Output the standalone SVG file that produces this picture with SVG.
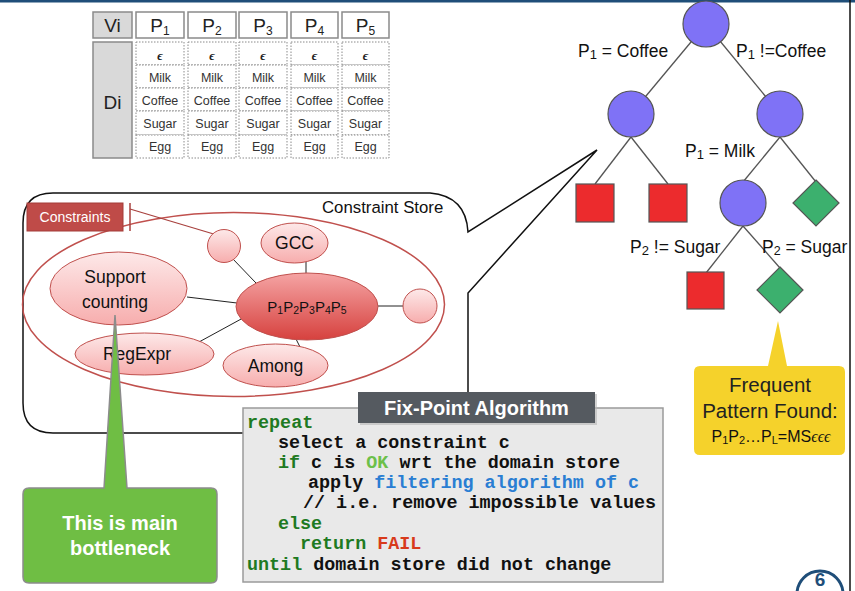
<svg xmlns="http://www.w3.org/2000/svg" width="855" height="591" viewBox="0 0 855 591">
<defs>
<style>
.hdr{fill:#fff;stroke:#8a8a8a;stroke-width:1.5}
.gray{fill:#d9d9d9;stroke:#8a8a8a;stroke-width:1.5}
.dot{fill:#fff;stroke:#8a8a8a;stroke-width:1;stroke-dasharray:1.5 1.5}
.cell{font-family:"Liberation Sans",Arial,sans-serif;font-size:12.5px;fill:#333;text-anchor:middle}
.eps{font-family:"Liberation Serif",serif;font-style:italic;font-weight:bold;font-size:13px;fill:#222;text-anchor:middle}
.ph{font-family:"Liberation Sans",Arial,sans-serif;font-size:19px;fill:#222;text-anchor:middle}
.lbl{font-family:"Liberation Sans",Arial,sans-serif;font-size:17.5px;fill:#111}
.edge{stroke:#555;stroke-width:1.3;fill:none}
.cedge{stroke:#222;stroke-width:1;fill:none}
.circ{fill:#7f72f6;stroke:#555;stroke-width:1.2}
.sq{fill:#ec2b2d;stroke:#555;stroke-width:1.2}
.dia{fill:#3cb06e;stroke:#555;stroke-width:1.2}
.pink{fill:url(#gPink);stroke:#c0504d;stroke-width:1}
.ntxt{font-family:"Liberation Sans",Arial,sans-serif;font-size:17.5px;fill:#111;text-anchor:middle}
.code{font-family:"Liberation Mono","Courier New",monospace;font-weight:bold;font-size:18.4px;fill:#111;white-space:pre}
.kw{fill:#1e7a22}
.sans{font-family:"Liberation Sans",Arial,sans-serif}
</style>
<linearGradient id="gPink" x1="0" y1="0" x2="0" y2="1">
<stop offset="0" stop-color="#fde9e9"/>
<stop offset="1" stop-color="#f7adad"/>
</linearGradient>
<linearGradient id="gRed" x1="0" y1="0" x2="0" y2="1">
<stop offset="0" stop-color="#f5a4a4"/>
<stop offset="1" stop-color="#d6413e"/>
</linearGradient>
</defs>
<rect x="0" y="0" width="855" height="591" fill="#fff"/>
<rect x="0" y="0" width="855" height="2.5" fill="#1f4e79"/>
<line x1="850" y1="0" x2="850" y2="591" stroke="#111" stroke-width="1.5"/>

<!-- table -->
<g id="table">
<rect class="gray" x="93" y="12" width="39" height="26"/>
<text class="ph" x="112.5" y="32">Vi</text>
<rect class="gray" x="93" y="42" width="39" height="116"/>
<text class="ph" x="112.5" y="109" font-size="23">Di</text>
<g id="colP1">
<rect class="hdr" x="136" y="12" width="48" height="26"/>
<text class="ph" x="160" y="32">P<tspan font-size="12" dy="3">1</tspan></text>
</g>
<g id="colP2">
<rect class="hdr" x="188" y="12" width="48" height="26"/>
<text class="ph" x="212" y="32">P<tspan font-size="12" dy="3">2</tspan></text>
</g>
<g id="colP3">
<rect class="hdr" x="239" y="12" width="48" height="26"/>
<text class="ph" x="263" y="32">P<tspan font-size="12" dy="3">3</tspan></text>
</g>
<g id="colP4">
<rect class="hdr" x="291" y="12" width="47" height="26"/>
<text class="ph" x="314.5" y="32">P<tspan font-size="12" dy="3">4</tspan></text>
</g>
<g id="colP5">
<rect class="hdr" x="342" y="12" width="47" height="26"/>
<text class="ph" x="365.5" y="32">P<tspan font-size="12" dy="3">5</tspan></text>
</g>
<g id="cells">
<rect class="dot" x="136" y="42" width="48" height="23"/><rect class="dot" x="136" y="65" width="48" height="23"/><rect class="dot" x="136" y="88" width="48" height="23"/><rect class="dot" x="136" y="111" width="48" height="24"/><rect class="dot" x="136" y="135" width="48" height="23"/>
<rect class="dot" x="188" y="42" width="48" height="23"/><rect class="dot" x="188" y="65" width="48" height="23"/><rect class="dot" x="188" y="88" width="48" height="23"/><rect class="dot" x="188" y="111" width="48" height="24"/><rect class="dot" x="188" y="135" width="48" height="23"/>
<rect class="dot" x="239" y="42" width="48" height="23"/><rect class="dot" x="239" y="65" width="48" height="23"/><rect class="dot" x="239" y="88" width="48" height="23"/><rect class="dot" x="239" y="111" width="48" height="24"/><rect class="dot" x="239" y="135" width="48" height="23"/>
<rect class="dot" x="291" y="42" width="47" height="23"/><rect class="dot" x="291" y="65" width="47" height="23"/><rect class="dot" x="291" y="88" width="47" height="23"/><rect class="dot" x="291" y="111" width="47" height="24"/><rect class="dot" x="291" y="135" width="47" height="23"/>
<rect class="dot" x="342" y="42" width="47" height="23"/><rect class="dot" x="342" y="65" width="47" height="23"/><rect class="dot" x="342" y="88" width="47" height="23"/><rect class="dot" x="342" y="111" width="47" height="24"/><rect class="dot" x="342" y="135" width="47" height="23"/>
<text class="eps" x="160" y="60">ϵ</text><text class="eps" x="212" y="60">ϵ</text><text class="eps" x="263" y="60">ϵ</text><text class="eps" x="314.5" y="60">ϵ</text><text class="eps" x="365.5" y="60">ϵ</text>
<text class="cell" x="160" y="82">Milk</text><text class="cell" x="212" y="82">Milk</text><text class="cell" x="263" y="82">Milk</text><text class="cell" x="314.5" y="82">Milk</text><text class="cell" x="365.5" y="82">Milk</text>
<text class="cell" x="160" y="105">Coffee</text><text class="cell" x="212" y="105">Coffee</text><text class="cell" x="263" y="105">Coffee</text><text class="cell" x="314.5" y="105">Coffee</text><text class="cell" x="365.5" y="105">Coffee</text>
<text class="cell" x="160" y="128">Sugar</text><text class="cell" x="212" y="128">Sugar</text><text class="cell" x="263" y="128">Sugar</text><text class="cell" x="314.5" y="128">Sugar</text><text class="cell" x="365.5" y="128">Sugar</text>
<text class="cell" x="160" y="151">Egg</text><text class="cell" x="212" y="151">Egg</text><text class="cell" x="263" y="151">Egg</text><text class="cell" x="314.5" y="151">Egg</text><text class="cell" x="365.5" y="151">Egg</text>
</g>
</g>

<!-- search tree -->
<g id="tree-edges">
<line class="edge" x1="706" y1="24" x2="631" y2="114"/>
<line class="edge" x1="706" y1="24" x2="780" y2="114"/>
<line class="edge" x1="631" y1="137" x2="595" y2="184"/>
<line class="edge" x1="631" y1="137" x2="668" y2="184"/>
<line class="edge" x1="780" y1="137" x2="743" y2="182"/>
<line class="edge" x1="780" y1="137" x2="816" y2="182"/>
<line class="edge" x1="743" y1="226" x2="706" y2="273"/>
<line class="edge" x1="743" y1="226" x2="780" y2="268"/>
</g>
<g id="root"><circle class="circ" cx="706" cy="24" r="23"/></g>
<g id="n1"><circle class="circ" cx="631" cy="114" r="23"/></g>
<g id="n2"><circle class="circ" cx="780" cy="114" r="23"/></g>
<g id="leaf1"><rect class="sq" x="576" y="184" width="38" height="38"/></g>
<g id="leaf2"><rect class="sq" x="649" y="184" width="38" height="38"/></g>
<g id="n3"><circle class="circ" cx="743" cy="203" r="23"/></g>
<g id="leaf3"><polygon class="dia" points="816,180 839,203 816,226 793,203"/></g>
<g id="leaf4"><rect class="sq" x="687" y="272" width="37" height="37"/></g>
<g id="leaf5"><polygon class="dia" points="780,267 803,290 780,313 757,290"/></g>
<g id="tree-labels">
<text class="lbl" x="578" y="57">P<tspan font-size="13" dy="2">1</tspan><tspan dy="-2"> = Coffee</tspan></text>
<text class="lbl" x="736" y="57">P<tspan font-size="13" dy="2">1</tspan><tspan dy="-2"> !=Coffee</tspan></text>
<text class="lbl" x="685" y="157">P<tspan font-size="13" dy="2">1</tspan><tspan dy="-2"> = Milk</tspan></text>
<text class="lbl" x="630" y="253">P<tspan font-size="13" dy="2">2</tspan><tspan dy="-2"> != Sugar</tspan></text>
<text class="lbl" x="762" y="253" font-size="16.8">P<tspan font-size="12.5" dy="2">2</tspan><tspan dy="-2"> = Sugar</tspan></text>
</g>

<!-- constraint store callout -->
<g id="store">
<path d="M53,193 H430 Q466,196 468,232 L597,150 L468,293 V410 Q468,433 440,433 H53 Q23,433 23,403 V223 Q23,193 53,193 Z" fill="#fff" stroke="#111" stroke-width="1.5"/>
<ellipse cx="233.5" cy="304.5" rx="211" ry="92" fill="none" stroke="#c0504d" stroke-width="1.5"/>
<text class="sans" x="322" y="213" font-size="16.8" fill="#111">Constraint Store</text>
</g>
<g id="connectors">
<line class="cedge" x1="232" y1="258" x2="256" y2="283"/>
<line class="cedge" x1="306" y1="262" x2="306" y2="274"/>
<line class="cedge" x1="187" y1="297" x2="237" y2="303"/>
<line class="cedge" x1="378" y1="306" x2="403" y2="306"/>
<line class="cedge" x1="199" y1="342" x2="243" y2="318"/>
<line class="cedge" x1="296" y1="339" x2="300" y2="347"/>
<line x1="130" y1="209" x2="227" y2="238" stroke="#a8413e" stroke-width="1.3"/>
</g>
<g id="constraints-label">
<rect x="27" y="203" width="96" height="28" fill="#bf4b48" stroke="#a33c39" stroke-width="1"/>
<text class="sans" x="75" y="222" font-size="14" fill="#fff" text-anchor="middle">Constraints</text>
<line x1="130" y1="203" x2="130" y2="231" stroke="#a8413e" stroke-width="1.5"/>
</g>
<g id="c-small1"><circle class="pink" cx="224" cy="246" r="16.5"/></g>
<g id="c-gcc"><ellipse class="pink" cx="294.5" cy="243" rx="33.5" ry="20"/><text class="ntxt" x="294.5" y="249">GCC</text></g>
<g id="c-support"><ellipse class="pink" cx="118.5" cy="288.5" rx="68.5" ry="36.5"/><text class="ntxt" x="115" y="283">Support</text><text class="ntxt" x="115" y="308">counting</text></g>
<g id="c-regexpr"><ellipse class="pink" cx="144.5" cy="354" rx="69.5" ry="21"/><text class="ntxt" x="137" y="360">RegExpr</text></g>
<g id="c-among"><ellipse class="pink" cx="275.5" cy="365.5" rx="52.5" ry="21.5"/><text class="ntxt" x="275.5" y="372">Among</text></g>
<g id="c-small2"><circle class="pink" cx="420" cy="306" r="17"/></g>
<g id="vars"><ellipse cx="307" cy="306.5" rx="71" ry="33.5" fill="url(#gRed)" stroke="#c0504d" stroke-width="1"/>
<text class="sans" x="307" y="312" font-size="15" fill="#111" text-anchor="middle">P<tspan font-size="10.5" dy="2">1</tspan><tspan dy="-2">P</tspan><tspan font-size="10.5" dy="2">2</tspan><tspan dy="-2">P</tspan><tspan font-size="10.5" dy="2">3</tspan><tspan dy="-2">P</tspan><tspan font-size="10.5" dy="2">4</tspan><tspan dy="-2">P</tspan><tspan font-size="10.5" dy="2">5</tspan></text></g>

<!-- green callout -->
<g id="bottleneck">
<path d="M115,315 L127,488 H211 Q217,488 217,494 V577 Q217,583 211,583 H29 Q23,583 23,577 V494 Q23,488 29,488 H104 Z" fill="#6fbe44" stroke="#8c8c8c" stroke-width="1.5"/>
<text class="sans" x="120" y="530" font-size="20" font-weight="bold" fill="#fff" text-anchor="middle">This is main</text>
<text class="sans" x="120" y="555" font-size="20" font-weight="bold" fill="#fff" text-anchor="middle">bottleneck</text>
</g>

<!-- yellow callout -->
<g id="frequent">
<path d="M778,321 L787,366 H839 Q845,366 845,372 V449 Q845,455 839,455 H700 Q694,455 694,449 V372 Q694,366 700,366 H768 Z" fill="#f5d22b"/>
<text class="sans" x="770" y="392" font-size="20.5" fill="#222" text-anchor="middle">Frequent</text>
<text class="sans" x="770" y="418" font-size="20.5" fill="#222" text-anchor="middle">Pattern Found:</text>
<text class="sans" x="771" y="442" font-size="16" fill="#111" text-anchor="middle">P<tspan font-size="11" dy="2">1</tspan><tspan dy="-2">P</tspan><tspan font-size="11" dy="2">2</tspan><tspan dy="-2">…P</tspan><tspan font-size="11" dy="2">L</tspan><tspan dy="-2">=MS</tspan><tspan font-family="Liberation Serif,serif" font-style="italic">ϵϵϵ</tspan></text>
</g>

<!-- fix-point algorithm -->
<g id="fixpoint">
<rect x="243" y="408" width="420" height="174" fill="#e9e9e9" stroke="#9a9a9a" stroke-width="1.5"/>
<rect x="360" y="394" width="237" height="31" fill="#b5b5b5" opacity="0.6"/>
<rect x="358" y="392" width="237" height="31" fill="#555a60"/>
<text class="sans" x="476.5" y="415" font-size="20" font-weight="bold" fill="#fff" text-anchor="middle">Fix-Point Algorithm</text>
<text class="code" x="247" y="428"><tspan class="kw">repeat</tspan></text>
<text class="code" x="278" y="448">select a constraint c</text>
<text class="code" x="278" y="468"><tspan class="kw">if</tspan> c is <tspan fill="#6cc04a">OK</tspan> wrt the domain store</text>
<text class="code" x="308" y="488">apply <tspan fill="#2a7ed3">filtering algorithm of c</tspan></text>
<text class="code" x="303" y="508">// i.e. remove impossible values</text>
<text class="code" x="278" y="529"><tspan class="kw">else</tspan></text>
<text class="code" x="300" y="549"><tspan class="kw">return</tspan> <tspan fill="#d83a1b">FAIL</tspan></text>
<text class="code" x="247" y="570"><tspan class="kw">until</tspan> domain store did not change</text>
</g>

<!-- page number -->
<g id="page">
<circle cx="820" cy="594" r="23" fill="#fff" stroke="#1f4e79" stroke-width="3"/>
<text class="sans" x="820" y="586" font-size="19" font-weight="bold" fill="#1f4e79" text-anchor="middle">6</text>
</g>
</svg>
